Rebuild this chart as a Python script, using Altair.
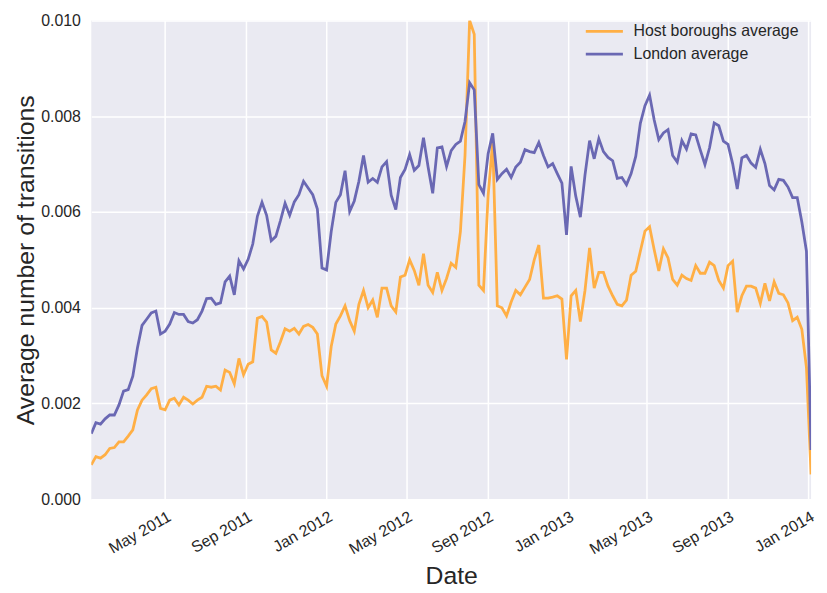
import altair as alt
import pandas as pd

start_date = "2011-01-09"
n_weeks = 157

host = [0.00072,0.00089,0.00086,0.00093,0.00106,0.00108,0.0012,0.0012,0.00132,0.00145,
0.00186,0.00207,0.00218,0.00231,0.00234,0.0019,0.00187,0.00207,0.00211,0.00197,
0.00213,0.00207,0.00199,0.00207,0.00213,0.00236,0.00234,0.00236,0.00228,0.0027,
0.00265,0.00241,0.00294,0.0026,0.00282,0.00287,0.00378,0.00382,0.0037,0.00312,
0.00305,0.00329,0.00356,0.00351,0.00357,0.00345,0.00361,0.00365,0.00359,0.00345,
0.00258,0.00236,0.00319,0.00366,0.00383,0.00404,0.00373,0.00351,0.00407,0.00436,
0.004,0.00416,0.0038,0.00441,0.00441,0.00404,0.00391,0.00464,0.00468,0.005,
0.00478,0.00447,0.00513,0.00447,0.00432,0.00474,0.00436,0.00461,0.00493,0.00484,
0.00559,0.00718,0.0100,0.00971,0.00447,0.00436,0.00633,0.00748,0.00404,0.004,
0.00383,0.00412,0.00436,0.00427,0.00443,0.00459,0.005,0.00531,0.0042,0.0042,
0.00422,0.00425,0.00418,0.00292,0.00425,0.00436,0.00371,0.00436,0.00525,0.00441,
0.00474,0.00474,0.00445,0.00425,0.00407,0.00404,0.00416,0.00468,0.00476,0.00518,
0.0056,0.00569,0.00521,0.00477,0.00523,0.00504,0.00459,0.00447,0.00468,0.00461,
0.00457,0.00488,0.00472,0.00472,0.00495,0.00488,0.00457,0.00441,0.00488,0.00497,
0.00391,0.00425,0.00445,0.00445,0.00441,0.00409,0.00451,0.00414,0.00454,0.0043,
0.00427,0.0041,0.00373,0.0038,0.00355,0.00275,0.00052]

london = [0.00137,0.0016,0.00157,0.00168,0.00176,0.00176,0.00197,0.00226,0.00229,0.00257,
0.00316,0.00363,0.00376,0.00389,0.00393,0.00345,0.00351,0.00366,0.0039,0.00386,
0.00386,0.00371,0.00368,0.00375,0.00393,0.00419,0.0042,0.00407,0.0041,0.00454,
0.00466,0.00427,0.00498,0.00481,0.00501,0.00533,0.00591,0.0062,0.00593,0.0054,
0.00549,0.00582,0.00618,0.00593,0.00621,0.00636,0.00664,0.0065,0.00636,0.00606,
0.00483,0.00479,0.00559,0.0062,0.00636,0.00686,0.00601,0.00623,0.00664,0.00718,
0.00662,0.0067,0.00662,0.00694,0.00705,0.00635,0.00605,0.00672,0.00689,0.0072,
0.00687,0.00697,0.00755,0.00694,0.00639,0.00734,0.00736,0.00695,0.00728,0.00741,
0.00748,0.00789,0.0087,0.00855,0.00657,0.00639,0.00721,0.00764,0.00668,0.0068,
0.00689,0.00672,0.00694,0.00704,0.0073,0.00726,0.00724,0.00745,0.00718,0.00694,
0.00701,0.0068,0.0066,0.00552,0.00695,0.00633,0.00589,0.00677,0.00749,0.00711,
0.00753,0.00726,0.00714,0.00707,0.0067,0.00672,0.00657,0.0068,0.00716,0.00785,
0.00822,0.00844,0.00792,0.00751,0.00765,0.00772,0.00718,0.00704,0.00749,0.00731,
0.00763,0.00761,0.00729,0.00699,0.00734,0.00786,0.0078,0.00748,0.00741,0.00701,
0.00648,0.00713,0.00718,0.00702,0.00693,0.00731,0.00701,0.00655,0.00646,0.00668,
0.00666,0.00652,0.0063,0.0063,0.00579,0.00518,0.00103]

series_names = ["Host boroughs average", "London average"]
series_colors = ["#FFAF45", "#6A68B3"]
x_ticks = [(2011, 5), (2011, 9), (2012, 1), (2012, 5), (2012, 9),
           (2013, 1), (2013, 5), (2013, 9), (2014, 1)]
y_ticks = [0.0, 0.002, 0.004, 0.006, 0.008, 0.010]

dates = pd.date_range(start_date, periods=n_weeks, freq="7D").strftime("%Y-%m-%d").tolist()
df = pd.DataFrame({
    "date": dates * 2,
    "value": host + london,
    "series": [series_names[0]] * n_weeks + [series_names[1]] * n_weeks,
})

font = "Liberation Sans"
txt = "#262626"

chart = alt.Chart(df).mark_line(strokeWidth=2.8, clip=True).encode(
    x=alt.X("date:T",
            scale=alt.Scale(type="utc", nice=False,
                            domain=[alt.DateTime(year=2011, month=1, date=9, utc=True),
                                    alt.DateTime(year=2014, month=1, date=5, utc=True)]),
            axis=alt.Axis(values=[alt.DateTime(year=y, month=m, date=1, utc=True) for y, m in x_ticks],
                          format="%b %Y", labelAngle=-30, labelAlign="right",
                          labelBaseline="top", labelPadding=9, title="Date",
                          titlePadding=7)),
    y=alt.Y("value:Q",
            scale=alt.Scale(domain=[0, 0.01], nice=False, zero=True),
            axis=alt.Axis(values=y_ticks, format=".3f", labelPadding=11,
                          title="Average number of transitions", titlePadding=2)),
    color=alt.Color("series:N",
                    scale=alt.Scale(domain=series_names, range=series_colors),
                    sort=series_names,
                    legend=alt.Legend(title=None, orient="none", legendX=497, legendY=3,
                                      symbolType="stroke", symbolSize=1400,
                                      symbolStrokeWidth=2.8, labelFontSize=16,
                                      labelFont=font, labelColor=txt, rowPadding=7,
                                      clipHeight=16, labelOffset=9, labelLimit=400)),
).properties(
    width=726, height=483,
    autosize=alt.AutoSizeParams(type="none"),
    padding={"left": 84, "top": 10, "right": 8, "bottom": 90},
).configure_view(
    fill="#EAEAF2", strokeWidth=0
).configure_axis(
    domain=False, ticks=False, gridColor="white", gridWidth=1.5,
    labelFont=font, labelFontSize=16, labelColor=txt,
    titleFont=font, titleFontSize=25, titleFontWeight="normal", titleColor=txt,
)

chart.save("out.html", embed_options={"renderer": "svg", "actions": False})
